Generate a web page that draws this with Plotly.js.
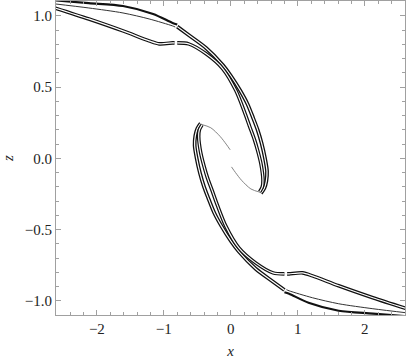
<!DOCTYPE html>
<html>
<head>
<meta charset="utf-8">
<script src="https://cdn.plot.ly/plotly-3.0.1.min.js"></script>
<style>
  html, body { margin: 0; padding: 0; background: #fff; }
  #chart { width: 406px; height: 359px; }
</style>
</head>
<body>
<div id="chart"></div>
<script>
// ---- upper arm ----
// inner tube (null = small white break)
const innerUpX = [-2.65, -2.12, -1.61, -1.22, -1.07, -0.87, -0.84, null, -0.80, -0.63, -0.37, -0.12, 0.075, 0.20, 0.28, 0.35, 0.40, 0.45, 0.48, 0.47, 0.43];
const innerUpZ = [1.06, 0.979, 0.895, 0.825, 0.804, 0.811, 0.811, null, 0.811, 0.804, 0.734, 0.629, 0.476, 0.33, 0.225, 0.135, 0.056, -0.04, -0.154, -0.20, -0.235];

// outer tube, from the point where its two edges meet
const outerUpX = [-0.80, -0.63, -0.37, -0.12, 0.0, 0.14, 0.25, 0.33, 0.40, 0.46, 0.51, 0.54, 0.53, 0.50, 0.45];
const outerUpZ = [0.925, 0.866, 0.775, 0.655, 0.58, 0.476, 0.38, 0.287, 0.20, 0.105, 0.0, -0.09, -0.16, -0.21, -0.245];

// the outer tube's two edges, apart on the left
const edgeAUpX = [-2.65, -2.12, -1.61, -1.16, -0.87, -0.80];
const edgeAUpZ = [1.11, 1.09, 1.07, 1.014, 0.951, 0.94];
const edgeBUpX = [-2.65, -2.12, -1.61, -1.22, -0.87, -0.83];
const edgeBUpZ = [1.086, 1.056, 1.021, 0.979, 0.93, 0.922];

// thin tail running into the centre
const tailUpX = [0.45, 0.30, 0.16, 0.07, 0.01];
const tailUpZ = [-0.24, -0.215, -0.154, -0.10, -0.06];

// ---- lower arm (turned half way round the origin) ----
const innerDnX = [2.65, 2.12, 1.61, 1.22, 1.07, 0.87, 0.84, null, 0.80, 0.63, 0.37, 0.12, -0.075, -0.20, -0.28, -0.35, -0.40, -0.45, -0.48, -0.47, -0.43];
const innerDnZ = [-1.06, -0.979, -0.895, -0.825, -0.804, -0.811, -0.811, null, -0.811, -0.804, -0.734, -0.629, -0.476, -0.33, -0.225, -0.135, -0.056, 0.04, 0.154, 0.20, 0.235];
const outerDnX = [0.80, 0.63, 0.37, 0.12, 0.0, -0.14, -0.25, -0.33, -0.40, -0.46, -0.51, -0.54, -0.53, -0.50, -0.45];
const outerDnZ = [-0.925, -0.866, -0.775, -0.655, -0.58, -0.476, -0.38, -0.287, -0.20, -0.105, 0.0, 0.09, 0.16, 0.21, 0.245];
const edgeADnX = [2.65, 2.12, 1.61, 1.16, 0.87, 0.80];
const edgeADnZ = [-1.11, -1.09, -1.07, -1.014, -0.951, -0.94];
const edgeBDnX = [2.65, 2.12, 1.61, 1.22, 0.87, 0.83];
const edgeBDnZ = [-1.086, -1.056, -1.021, -0.979, -0.93, -0.922];
const tailDnX = [-0.45, -0.30, -0.16, -0.07, -0.01];
const tailDnZ = [0.24, 0.215, 0.154, 0.10, 0.06];

function line(x, y, color, width) {
    return {
        x: x, y: y,
        mode: 'lines',
        type: 'scatter',
        hoverinfo: 'skip',
        showlegend: false,
        connectgaps: false,
        line: { color: color, width: width, shape: 'spline', smoothing: 0.8 }
    };
}

// a tube = black band + white centre line
const traces = [
    line(edgeAUpX, edgeAUpZ, '#111', 2.2),
    line(edgeBUpX, edgeBUpZ, '#333', 1.0),
    line(edgeADnX, edgeADnZ, '#111', 2.2),
    line(edgeBDnX, edgeBDnZ, '#333', 1.0),
    line(outerUpX, outerUpZ, '#111', 3.8),
    line(outerUpX, outerUpZ, '#fff', 1.2),
    line(outerDnX, outerDnZ, '#111', 3.8),
    line(outerDnX, outerDnZ, '#fff', 1.2),
    line(innerUpX, innerUpZ, '#111', 3.6),
    line(innerUpX, innerUpZ, '#fff', 1.2),
    line(innerDnX, innerDnZ, '#111', 3.6),
    line(innerDnX, innerDnZ, '#fff', 1.2),
    line(tailUpX, tailUpZ, '#777', 0.9),
    line(tailDnX, tailDnZ, '#777', 0.9)
];

const serif = '"Liberation Serif", "Times New Roman", Times, serif';

const axisStyle = {
    showline: true,
    linecolor: '#a0a0a0',
    linewidth: 1,
    mirror: 'ticks',
    ticks: 'inside',
    ticklen: 5,
    tickcolor: '#a0a0a0',
    showgrid: false,
    zeroline: false,
    tickfont: { family: serif, size: 15, color: '#222' }
};

const layout = {
    width: 406,
    height: 359,
    margin: { l: 56, r: 1, t: 1, b: 44 },
    paper_bgcolor: '#fff',
    plot_bgcolor: '#fff',
    font: { family: serif },
    xaxis: Object.assign({}, axisStyle, {
        range: [-2.61, 2.6],
        dtick: 1,
        minor: { ticks: 'inside', dtick: 0.2, ticklen: 3, tickcolor: '#a0a0a0' },
        title: { text: '<i>x</i>', standoff: 10, font: { family: serif, size: 15, color: '#222' } }
    }),
    yaxis: Object.assign({}, axisStyle, {
        range: [-1.1, 1.105],
        dtick: 0.5,
        tickformat: '.1f',
        minor: { ticks: 'inside', dtick: 0.1, ticklen: 3, tickcolor: '#a0a0a0' },
        title: { text: '<i>z</i>', standoff: 8, font: { family: serif, size: 15, color: '#222' } }
    })
};

Plotly.newPlot('chart', traces, layout, { displayModeBar: false, staticPlot: true });
</script>
</body>
</html>
